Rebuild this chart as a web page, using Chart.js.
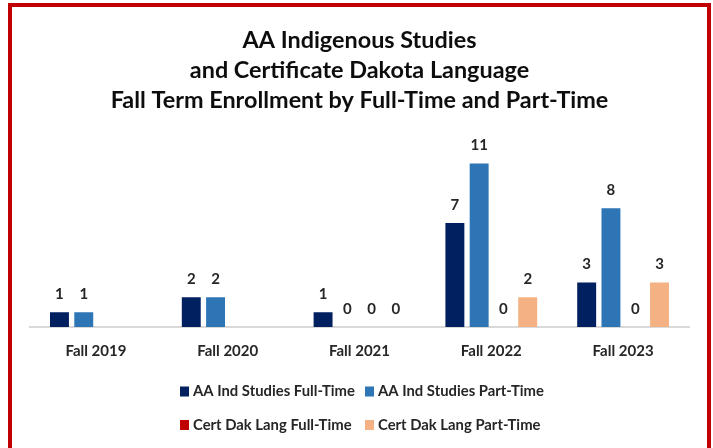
<!DOCTYPE html>
<html><head><meta charset="utf-8">
<script src="https://cdn.jsdelivr.net/npm/chart.js@4.4.0/dist/chart.umd.min.js"></script>
<style>
html,body{margin:0;padding:0;background:#fff;}
#wrap{position:relative;width:713px;height:448px;overflow:hidden;background:#fff;}
#c{position:absolute;left:0;top:0;}
#frame{position:absolute;left:8px;top:3px;width:695px;height:470px;border:4px solid #C00000;pointer-events:none;}
</style></head><body>
<div id="wrap"><canvas id="c" width="713" height="448" style="width:713px;height:448px"></canvas><div id="frame"></div></div>
<script>
// ---- data ----
const categories = ['Fall 2019', 'Fall 2020', 'Fall 2021', 'Fall 2022', 'Fall 2023'];
const seriesNames = ['AA Ind Studies Full-Time', 'AA Ind Studies Part-Time', 'Cert Dak Lang Full-Time', 'Cert Dak Lang Part-Time'];
const aaFullTime = [1, 2, 1, 7, 3];
const aaPartTime = [1, 2, 0, 11, 8];
const certFullTime = [null, null, 0, 0, 0];
const certPartTime = [null, null, 0, 2, 3];
const titleLines = ['AA Indigenous Studies', 'and Certificate Dakota Language', 'Fall Term Enrollment by Full-Time and Part-Time'];
const seriesColors = ['#002060', '#2E75B6', '#C00000', '#F4B183'];

// ---- font sizing ----
const FAMILY = 'Lato, "Open Sans", sans-serif';
function fitSize(text, target) {
  const ctx = document.createElement('canvas').getContext('2d');
  ctx.font = 'bold 100px ' + FAMILY;
  return 100 * target / ctx.measureText(text).width;
}
const titleSize = fitSize(titleLines[2], 498);
const tickSize = fitSize('Fall 2019', 61);
const legendSize = fitSize(seriesNames[0], 162);
const labelSize = tickSize;

const dataLabelPlugin = {
  id: 'dataLabels',
  afterDatasetsDraw(chart) {
    const ctx = chart.ctx;
    ctx.save();
    ctx.font = 'bold ' + labelSize + 'px ' + FAMILY;
    ctx.fillStyle = '#262626';
    ctx.textAlign = 'center';
    ctx.textBaseline = 'middle';
    chart.data.datasets.forEach((ds, i) => {
      const meta = chart.getDatasetMeta(i);
      meta.data.forEach((el, j) => {
        const v = ds.data[j];
        if (v === null || v === undefined) return;
        ctx.fillText(String(v), el.x, el.y - 18);
      });
    });
    ctx.restore();
  }
};

// legend laid out as a 2x2 grid like the original
const legendGridPlugin = {
  id: 'legendGrid',
  afterDraw(chart) {
    const ctx = chart.ctx;
    const colX = [180, 365];
    const rowY = [391.5, 425];
    ctx.save();
    ctx.font = 'bold ' + legendSize + 'px ' + FAMILY;
    ctx.textAlign = 'left';
    ctx.textBaseline = 'middle';
    chart.data.datasets.forEach((ds, i) => {
      const x = colX[i % 2];
      const y = rowY[Math.floor(i / 2)];
      ctx.fillStyle = ds.backgroundColor;
      ctx.fillRect(x, y - 5, 9, 10);
      ctx.fillStyle = '#262626';
      ctx.fillText(ds.label, x + 13, y);
    });
    ctx.restore();
  }
};

const seriesData = [aaFullTime, aaPartTime, certFullTime, certPartTime];
const datasets = seriesNames.map((name, i) => ({
  label: name,
  data: seriesData[i],
  backgroundColor: seriesColors[i],
  borderWidth: 0,
  categoryPercentage: 0.737,
  barPercentage: 0.78
}));

const AXIS_H = 37.5;

new Chart(document.getElementById('c'), {
  type: 'bar',
  data: { labels: categories, datasets },
  options: {
    responsive: false,
    animation: false,
    devicePixelRatio: 1,
    layout: { padding: { left: 30, right: 24, top: 0, bottom: 448 - 327 - AXIS_H } },
    plugins: {
      title: {
        display: true,
        text: titleLines,
        color: '#0D0D0D',
        font: { family: FAMILY, size: titleSize, weight: 'bold', lineHeight: 29.6 / titleSize },
        padding: { top: 26, bottom: 33.9 }
      },
      legend: { display: false },
      tooltip: { enabled: false }
    },
    scales: {
      x: {
        grid: { display: false, drawTicks: false },
        border: { display: true, color: '#D9D9D9', width: 2 },
        ticks: { color: '#262626', font: { family: FAMILY, size: tickSize, weight: 'bold' }, padding: 15 },
        afterFit(scale) { scale.height = AXIS_H; }
      },
      y: {
        display: false,
        min: 0,
        max: 12
      }
    }
  },
  plugins: [dataLabelPlugin, legendGridPlugin]
});
</script>
</body></html>
